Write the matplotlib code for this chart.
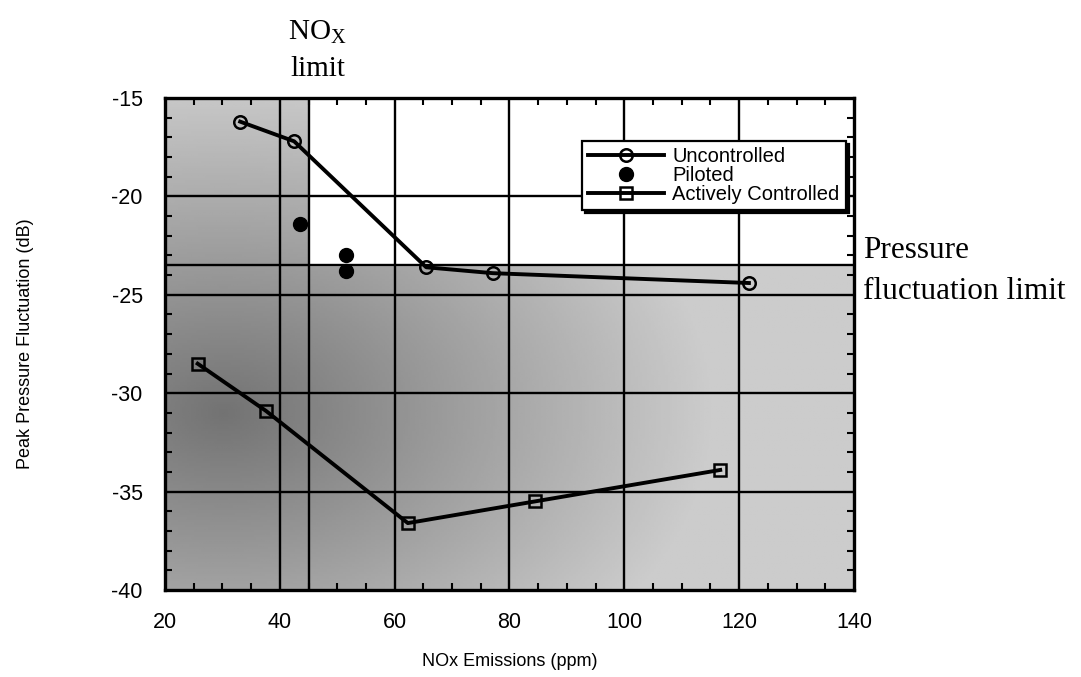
import numpy as np
import matplotlib
matplotlib.use("Agg")
import matplotlib.pyplot as plt

plt.rcParams["font.family"] = ["Liberation Sans", "DejaVu Sans"]
plt.rcParams["axes.unicode_minus"] = False

# data
unc_x = [33.1, 42.5, 65.5, 77.1, 121.7]
unc_y = [-16.2, -17.2, -23.6, -23.9, -24.4]

pil_x = [43.5, 51.5, 51.5]
pil_y = [-21.4, -23.0, -23.8]

act_x = [25.7, 37.6, 62.3, 84.4, 116.7]
act_y = [-28.5, -30.9, -36.6, -35.5, -33.9]

nox_limit = 45
pressure_limit = -23.5

fig = plt.figure(figsize=(10.81, 6.77), dpi=100)
ax = fig.add_axes([0.1526, 0.1285, 0.6374, 0.7267])

# shaded "not acceptable" background, darker toward lower left
gx, gy = np.meshgrid(np.linspace(20, 140, 300), np.linspace(-40, -15, 200))
dist = np.sqrt(((gx - 30) / 110) ** 2 + ((gy + 31) / 22) ** 2)
shade = np.clip(0.45 + 0.45 * dist, 0, 0.8)
ax.imshow(shade, extent=[20, 140, -40, -15], origin="lower", cmap="gray",
          vmin=0, vmax=1, aspect="auto", zorder=0)
ax.fill_between([nox_limit, 140], pressure_limit, -15, color="white", zorder=1)

for gxv in [40, 60, 80, 100, 120]:
    ax.axvline(gxv, color="black", lw=1.7, zorder=2)
for gyv in [-20, -25, -30, -35]:
    ax.axhline(gyv, color="black", lw=1.7, zorder=2)
ax.axvline(nox_limit, color="black", lw=1.7, zorder=2)
ax.axhline(pressure_limit, color="black", lw=1.7, zorder=2)

ax.plot(unc_x, unc_y, "-o", color="black", lw=2.8, ms=9, mfc="none",
        mew=1.8, label="Uncontrolled", zorder=4)
ax.plot(pil_x, pil_y, "o", color="black", ms=10, label="Piloted", zorder=4)
ax.plot(act_x, act_y, "-s", color="black", lw=2.8, ms=9, mfc="none",
        mew=1.8, label="Actively Controlled", zorder=4)

ax.set_xlim(20, 140)
ax.set_ylim(-40, -15)
ax.set_xticks(range(20, 141, 20))
ax.set_yticks(range(-40, -14, 5))
ax.set_xticks(range(20, 141, 5), minor=True)
ax.set_yticks(range(-40, -14, 1), minor=True)
ax.tick_params(which="both", direction="in", top=True, right=True,
               width=1.5, color="black", labelsize=15.5)
ax.tick_params(which="major", length=0, pad=16)
ax.tick_params(which="minor", length=5)
for s in ax.spines.values():
    s.set_linewidth(2.4)

ax.set_xlabel("NOx Emissions (ppm)", fontsize=13, labelpad=14)
ax.set_ylabel("Peak Pressure Fluctuation (dB)", fontsize=13, labelpad=56)

leg = ax.legend(loc="upper left", bbox_to_anchor=(0.605, 0.912),
                fontsize=14.5, handlelength=3.8, borderpad=0.3,
                labelspacing=0.0, handletextpad=0.4, borderaxespad=0,
                fancybox=False, framealpha=1, edgecolor="black",
                shadow={"color": "black", "alpha": 1})
leg.get_frame().set_linewidth(1.6)
leg.set_zorder(6)

serif = ["Liberation Serif", "DejaVu Serif"]
fig.text(0.294, 0.952, "NO$_\\mathregular{X}$", family=serif,
         fontsize=21, ha="center", va="center")
fig.text(0.294, 0.898, "limit", family=serif,
         fontsize=21, ha="center", va="center")
fig.text(0.798, 0.630, "Pressure", family=serif,
         fontsize=22.5, ha="left", va="center")
fig.text(0.798, 0.570, "fluctuation limit", family=serif,
         fontsize=22.5, ha="left", va="center")

fig.savefig("out.png", dpi=100)
